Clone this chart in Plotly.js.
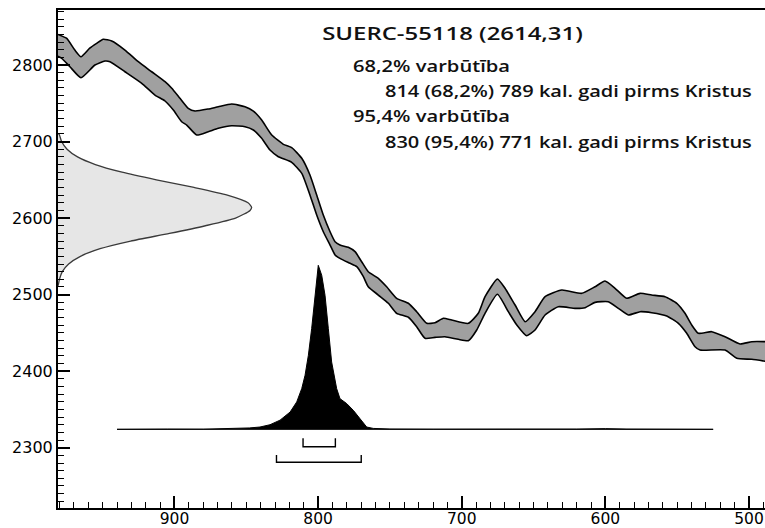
<!DOCTYPE html>
<html>
<head>
<meta charset="utf-8">
<script src="https://cdn.plot.ly/plotly-3.0.1.min.js"></script>
<style>html,body{margin:0;padding:0;background:#fff;}#chart{width:765px;height:528px;}</style>
</head>
<body>
<div id="chart"></div>
<script>
// Calibration curve band (calendar year BC, 14C BP)
const calUpperYear = [982,975.2,969.4,965.1,959,954.2,949.6,943.7,934.5,925.2,915.9,906.6,901.9,896.2,890.4,885.7,876.5,869.5,860.2,850.9,845.1,839.3,832.3,824.2,818.4,811.4,805.7,801.0,796.4,791.7,788.2,784.8,779.0,774.3,769.7,765.1,758.1,752.3,745.3,737.2,731.4,724.4,718.6,712.8,707.0,695.4,688.5,683.8,675.2,669.9,662.9,655.9,649.0,642.0,630.4,616.5,607.2,600.3,593.3,585.2,575.9,567.8,558.5,550.3,544.6,539.9,535.3,526.0,516.7,506.3,498.1,487];
const calUpperBP = [2840.5,2835,2819.6,2810.8,2822,2828.3,2833.6,2831.4,2819.6,2804.3,2791.2,2778.2,2769.6,2756.5,2743.4,2739.9,2742.5,2745.5,2749.0,2745.5,2739.9,2728.1,2708.5,2696.4,2692.0,2678.1,2656.3,2630.2,2604.0,2582.2,2569.1,2564.8,2561.8,2556.1,2543.0,2529.9,2521.3,2510.3,2495.2,2488.7,2477.7,2462.5,2463.3,2469.1,2466.8,2462.5,2475.6,2497.3,2520.4,2508.3,2486.4,2464.6,2477.7,2497.3,2506.0,2501.7,2510.3,2517.8,2508.3,2495.2,2501.7,2499.5,2497.3,2488.7,2475.6,2460.3,2449.5,2451.6,2445.0,2435.5,2438.5,2438.5];
const calLowerYear = [982,978.5,972.8,965.1,955.4,948.4,944.9,934.5,922.8,913.6,906.6,900.8,895.0,891.5,884.5,876.5,869.5,860.2,850.9,845.1,839.3,833.5,827.7,818.4,811.4,805.7,801.0,796.4,791.7,788.2,784.8,777.8,773.1,768.5,765.1,758.1,751.1,745.3,737.2,731.4,725.6,718.6,711.7,702.4,695.4,689.6,683.8,675.2,667.6,661.7,654.8,649.0,642.0,632.8,621.2,614.2,607.2,598.0,591.0,584.0,575.9,567.8,557.3,549.2,543.4,537.6,534.1,516.7,508.6,498.1,487];
const calLowerBP = [2812.2,2808.8,2797.8,2783.4,2800,2805.2,2804.3,2791.2,2776.1,2760.8,2753.0,2741.2,2725.9,2721.6,2708.5,2712.9,2717.3,2720.7,2719.4,2715.1,2704.2,2688.9,2680.2,2672.9,2658.5,2630.2,2604.0,2582.2,2564.8,2551.8,2547.4,2540.9,2536.5,2523.4,2510.3,2499.5,2488.7,2475.6,2470.4,2458.1,2442.9,2444.2,2445.0,2441.6,2439.8,2453.8,2475.6,2500.4,2477.7,2460.3,2446.3,2453.8,2473.4,2484.2,2482.1,2482.9,2489.9,2490.7,2482.1,2473.4,2477.7,2476.4,2472.1,2462.5,2449.5,2431.9,2427.6,2427.6,2416.8,2415.5,2412.4];

// Radiocarbon measurement distribution (drawn against the y axis)
const measBP = [2512,2520,2530,2540,2550,2560,2570,2580,2590,2600,2610,2614,2620,2630,2640,2650,2660,2670,2680,2690,2700,2710];
const measYear = [981.0,980.1,978.1,973.7,965.5,951.8,930.5,903.5,878.5,857.5,847.4,846.3,848.8,863.2,886.4,912.6,936.5,955.1,967.5,974.8,978.6,980.4];

// Calibrated date distribution (year BC, relative height)
const probYear = [940,925,915,905,880,860,848,840.5,833.5,826.5,819.5,814.9,811.4,809.1,806.8,804.5,802.1,799.9,797.5,795.2,792.9,790.6,787.1,784.8,780.1,775.5,770.9,766.2,761.6,750,720,690,677,665,620,600,585,560,525];
const probHeight = [0,0.3,1.0,0.3,0.2,0.8,1.8,3,6,12,22.6,35.8,53.3,70.6,96.7,131.6,175.1,214.3,201.2,175.1,131.6,88,53.2,40.1,33.6,24.8,14,3,1.2,0.4,0.2,0.3,1.2,0.3,0.3,0.9,0.3,0.2,0];
const probBaseBP = 2324;

// Ranges shown as brackets
const range68 = [810.5, 788];
const range95 = [829, 770];

const textLines = [
  "SUERC-55118 (2614,31)",
  "68,2% varbūtība",
  "814 (68,2%) 789 kal. gadi pirms Kristus",
  "95,4% varbūtība",
  "830 (95,4%) 771 kal. gadi pirms Kristus"
];

const xRange = [981.1, 488.9];
const yRange = [2221.2, 2871.9];

// build traces
const probX = probYear.concat(probYear.slice().reverse());
const probY = probHeight.map(h => probBaseBP + h).concat(probYear.map(() => probBaseBP));

const measX = [xRange[0]].concat(measYear, [xRange[0]]);
const measY = [measBP[0]].concat(measBP, [measBP[measBP.length - 1]]);

function bracket(r, top, bottom) {
  return {x: [r[0], r[0], r[1], r[1]], y: [top, bottom, bottom, top]};
}
const b68 = bracket(range68, 2312.3, 2301.3);
const b95 = bracket(range95, 2290.5, 2280.9);

const traces = [
  {x: measX, y: measY, type: 'scatter', mode: 'lines', fill: 'toself', fillcolor: '#e6e6e6',
   line: {color: '#3a3a3a', width: 1.3, shape: 'spline', smoothing: 0.6}, hoverinfo: 'skip'},
  {x: calUpperYear, y: calUpperBP, type: 'scatter', mode: 'lines',
   line: {color: '#000', width: 1.6, shape: 'spline', smoothing: 0.5}, hoverinfo: 'skip'},
  {x: calLowerYear, y: calLowerBP, type: 'scatter', mode: 'lines', fill: 'tonexty', fillcolor: '#a0a0a0',
   line: {color: '#000', width: 1.6, shape: 'spline', smoothing: 0.5}, hoverinfo: 'skip'},
  {x: probX, y: probY, type: 'scatter', mode: 'lines', fill: 'toself', fillcolor: '#000',
   line: {color: '#000', width: 1}, hoverinfo: 'skip'},
  {x: b68.x, y: b68.y, type: 'scatter', mode: 'lines', line: {color: '#000', width: 1.4}, hoverinfo: 'skip'},
  {x: b95.x, y: b95.y, type: 'scatter', mode: 'lines', line: {color: '#000', width: 1.4}, hoverinfo: 'skip'}
];

const annFont = {family: 'Open Sans, sans-serif', color: '#111', weight: 600};
const annPos = [
  {x: 0.3706, y: 0.954, size: 18, sx: 1.33},
  {x: 0.4144, y: 0.888, size: 16, sx: 1.26},
  {x: 0.4597, y: 0.837, size: 16, sx: 1.25},
  {x: 0.4144, y: 0.788, size: 16, sx: 1.26},
  {x: 0.4597, y: 0.734, size: 16, sx: 1.25}
];
const annotations = textLines.map((t, i) => ({
  text: t, xref: 'paper', yref: 'paper', x: annPos[i].x, y: annPos[i].y,
  xanchor: 'left', yanchor: 'middle', showarrow: false,
  font: Object.assign({}, annFont, {size: annPos[i].size})
}));

const tickFont = {family: 'DejaVu Sans, sans-serif', size: 16, color: '#000'};

const layout = {
  width: 765, height: 528,
  margin: {l: 58, r: 0, t: 10, b: 20},
  paper_bgcolor: '#fff', plot_bgcolor: '#fff',
  showlegend: false,
  xaxis: {
    range: xRange, dtick: 100, tick0: 0, ticks: 'inside', ticklen: 12, tickwidth: 2, tickcolor: '#000',
    minor: {dtick: 10, ticks: 'inside', ticklen: 6, tickwidth: 1, tickcolor: '#000'},
    showline: true, linecolor: '#000', linewidth: 2, mirror: true, ticklabelstandoff: -5,
    showgrid: false, zeroline: false, tickfont: {family: 'DejaVu Sans, sans-serif', size: 15.5, color: '#000'}, fixedrange: true
  },
  yaxis: {
    range: yRange, dtick: 100, tick0: 0, ticks: 'inside', ticklen: 12, tickwidth: 2, tickcolor: '#000',
    minor: {dtick: 10, ticks: 'inside', ticklen: 6, tickwidth: 1, tickcolor: '#000'},
    showline: true, linecolor: '#000', linewidth: 2,
    showgrid: false, zeroline: false, tickfont: tickFont, fixedrange: true
  },
  annotations: annotations
};

Plotly.newPlot('chart', traces, layout, {staticPlot: true, displayModeBar: false}).then(gd => {
  // widen annotation glyphs horizontally around their left edge, as in the reference lettering
  const texts = gd.querySelectorAll('.annotation-text');
  texts.forEach((t, i) => {
    if (!annPos[i]) return;
    const bb = t.getBBox();
    const x0 = bb.x;
    const prev = t.getAttribute('transform') || '';
    t.setAttribute('transform', prev + ' translate(' + x0 + ',0) scale(' + annPos[i].sx + ',1) translate(' + (-x0) + ',0)');
  });
});
</script>
</body>
</html>
